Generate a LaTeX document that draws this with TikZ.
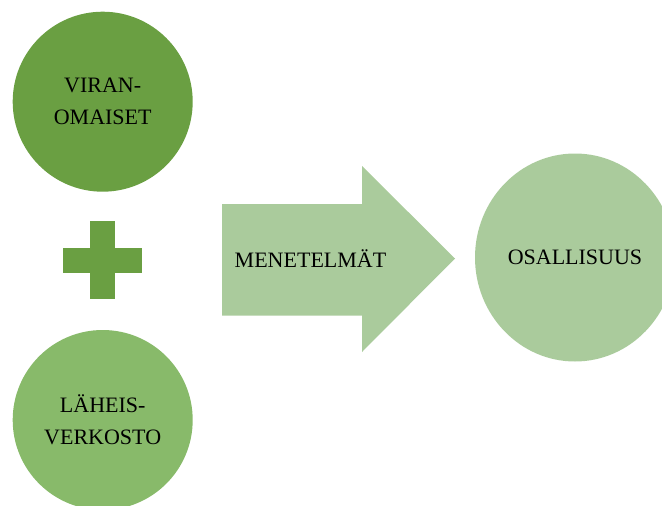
\documentclass[tikz,border=0pt]{standalone}
\usepackage{fontspec}
\setmainfont{Liberation Serif}
\usetikzlibrary{shapes.geometric}
\definecolor{darkgreen}{HTML}{6A9F42}
\definecolor{midgreen}{HTML}{88BA6A}
\definecolor{lightgreen}{HTML}{AACB9C}
\tikzset{
  blob/.style={circle, minimum size=180pt, inner sep=0pt, align=center,
    font=\fontsize{22}{32}\selectfont},
  caption/.style={font=\fontsize{22}{32}\selectfont}
}
\begin{document}
\begin{tikzpicture}[x=1pt,y=-1pt]
            \useasboundingbox (0,0) rectangle (662,506);
            \node[blob, fill=darkgreen] (viran) at (102.7,101.7) {VIRAN-\\OMAISET};
            \node[blob, fill=midgreen] (laheis) at (102.7,420) {LÄHEIS-\\VERKOSTO};
            \fill[darkgreen] (90,221) rectangle (115,299);
            \fill[darkgreen] (63,248) rectangle (142,273);
            \fill[lightgreen] (222,204) -- (362,204) -- (362,166) -- (455,258.5)
                -- (362,352) -- (362,315.5) -- (222,315.5) -- cycle;
            \node[caption] (menetelmat) at (310.5,259) {MENETELMÄT};
            \node[ellipse, fill=lightgreen, minimum width=200pt, minimum height=208pt,
                inner sep=0pt, caption] (osallisuus) at (575,257.5) {OSALLISUUS};
        \end{tikzpicture}
\end{document}
